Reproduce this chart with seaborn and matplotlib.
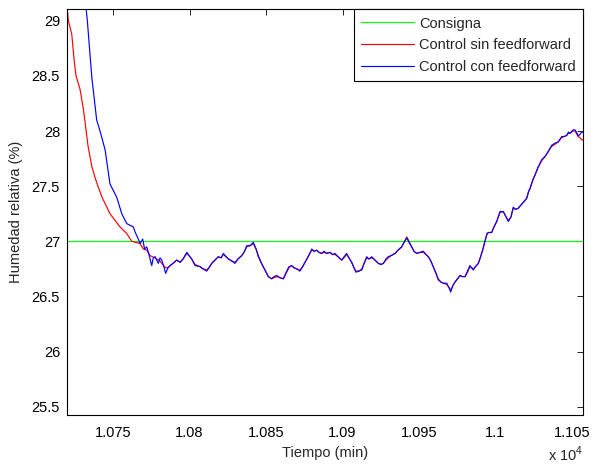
import matplotlib
matplotlib.use("Agg")
import matplotlib.pyplot as plt
import seaborn as sns
import numpy as np
import pandas as pd
from matplotlib.ticker import FuncFormatter, FixedLocator

# ---------------- data ----------------
t_setpoint = [10720.0, 11057.2]
setpoint = [27.0, 27.0]

t_sin = [10720.0, 10720.8, 10723.0, 10724.5, 10725.8, 10728.4, 10730.6, 10732.4, 10733.7,
         10736.1, 10738.2, 10740.4, 10742.8, 10745.9, 10748.0, 10751.3, 10754.6, 10759.0,
         10762.2, 10765.0, 10767.6, 10769.8, 10772.0, 10774.2, 10777.5, 10780.7, 10782.9,
         10784.6, 10785.9, 10787.3, 10789.2, 10791.6, 10793.8, 10795.8, 10798.2, 10799.7,
         10801.4, 10803.6, 10806.9, 10808.8, 10811.2, 10812.7, 10814.5, 10816.7, 10818.8,
         10820.6, 10822.1, 10823.9, 10825.4, 10827.8, 10829.7, 10831.7, 10834.1, 10835.6,
         10837.4, 10839.5, 10841.7, 10843.5, 10845.0, 10846.7, 10848.2, 10850.0, 10851.5,
         10853.7, 10855.2, 10857.0, 10859.1, 10861.3, 10863.5, 10865.0, 10866.8, 10868.3,
         10870.1, 10872.2, 10873.9, 10875.5, 10877.5, 10879.9, 10881.4, 10883.1, 10884.6,
         10886.4, 10887.9, 10889.7, 10891.8, 10893.5, 10895.1, 10897.1, 10899.5, 10901.0,
         10902.7, 10904.2, 10906.0, 10907.5, 10908.8, 10910.8, 10912.6, 10914.1, 10915.8,
         10917.3, 10919.1, 10921.2, 10923.4, 10925.2, 10926.7, 10928.4, 10929.9, 10931.7,
         10934.3, 10936.3, 10938.7, 10940.2, 10942.0, 10943.5, 10945.2, 10946.7, 10948.5,
         10950.7, 10952.8, 10954.6, 10956.1, 10957.8, 10959.3, 10961.1, 10962.6, 10964.4,
         10965.9, 10968.1, 10969.6, 10970.7, 10972.2, 10973.5, 10975.2, 10976.8, 10978.4,
         10980.1, 10981.7, 10983.3, 10985.5, 10986.9, 10988.8, 10990.5, 10991.8, 10993.1,
         10994.4, 10995.3, 10997.5, 10999.0, 11000.8, 11002.9, 11005.1, 11006.9, 11008.4,
         11010.1, 11011.6, 11013.1, 11014.9, 11016.7, 11018.6, 11020.4, 11021.6, 11022.6,
         11024.5, 11025.8, 11027.8, 11030.2, 11032.4, 11034.3, 11036.7, 11038.9, 11040.9,
         11043.3, 11044.8, 11046.5, 11047.7, 11048.7, 11050.7, 11052.0, 11053.3, 11054.1,
         11055.2, 11056.3, 11057.2]
hum_sin = [29.12, 29.00, 28.88, 28.65, 28.50, 28.38, 28.20, 28.00, 27.86,
           27.68, 27.58, 27.49, 27.40, 27.31, 27.25, 27.19, 27.13, 27.07,
           27.00, 26.99, 26.98, 26.93, 26.92, 26.87, 26.85, 26.82, 26.78,
           26.76, 26.76, 26.78, 26.80, 26.83, 26.81, 26.84, 26.89, 26.87,
           26.84, 26.79, 26.77, 26.75, 26.74, 26.76, 26.80, 26.83, 26.86,
           26.85, 26.88, 26.86, 26.84, 26.82, 26.81, 26.84, 26.87, 26.90,
           26.95, 26.96, 26.98, 26.93, 26.87, 26.81, 26.77, 26.72, 26.68,
           26.66, 26.67, 26.68, 26.67, 26.66, 26.72, 26.76, 26.78, 26.76,
           26.75, 26.74, 26.77, 26.81, 26.86, 26.92, 26.91, 26.92, 26.90,
           26.89, 26.90, 26.89, 26.90, 26.88, 26.88, 26.86, 26.83, 26.85,
           26.88, 26.85, 26.81, 26.76, 26.73, 26.73, 26.75, 26.80, 26.85,
           26.84, 26.85, 26.83, 26.80, 26.79, 26.80, 26.83, 26.85, 26.87,
           26.89, 26.92, 26.95, 26.99, 27.04, 27.00, 26.95, 26.91, 26.89,
           26.90, 26.90, 26.88, 26.86, 26.82, 26.77, 26.71, 26.66, 26.63,
           26.62, 26.61, 26.58, 26.56, 26.60, 26.63, 26.66, 26.69, 26.68,
           26.68, 26.72, 26.77, 26.75, 26.77, 26.80, 26.87, 26.93, 27.00,
           27.06, 27.08, 27.08, 27.13, 27.18, 27.26, 27.27, 27.22, 27.19,
           27.22, 27.30, 27.29, 27.30, 27.33, 27.36, 27.39, 27.45, 27.48,
           27.56, 27.60, 27.67, 27.73, 27.77, 27.81, 27.86, 27.88, 27.90,
           27.94, 27.95, 27.96, 27.98, 27.98, 28.00, 28.00, 27.97, 27.95,
           27.94, 27.92, 27.92]

t_con = [10730.4, 10732.4, 10733.2, 10736.1, 10739.3, 10741.5, 10744.8, 10748.0, 10752.4,
         10755.7, 10759.0, 10763.3, 10764.4, 10766.5, 10767.6, 10769.4, 10770.6, 10772.0,
         10773.1, 10775.3, 10776.3, 10777.5, 10779.6, 10780.7, 10781.8, 10783.0, 10784.4,
         10785.9, 10787.3, 10789.2, 10791.6, 10793.8, 10795.8, 10798.2, 10799.7,
         10801.4, 10803.6, 10806.9, 10808.8, 10811.2, 10812.7, 10814.5, 10816.7, 10818.8,
         10820.6, 10822.1, 10823.9, 10825.4, 10827.8, 10829.7, 10831.7, 10834.1, 10835.6,
         10837.4, 10839.5, 10841.7, 10843.5, 10845.0, 10846.7, 10848.2, 10850.0, 10851.5,
         10853.7, 10855.2, 10857.0, 10859.1, 10861.3, 10863.5, 10865.0, 10866.8, 10868.3,
         10870.1, 10872.2, 10873.9, 10875.5, 10877.5, 10879.9, 10881.4, 10883.1, 10884.6,
         10886.4, 10887.9, 10889.7, 10891.8, 10893.5, 10895.1, 10897.1, 10899.5, 10901.0,
         10902.7, 10904.2, 10906.0, 10907.5, 10908.8, 10910.8, 10912.6, 10914.1, 10915.8,
         10917.3, 10919.1, 10921.2, 10923.4, 10925.2, 10926.7, 10928.4, 10929.9, 10931.7,
         10934.3, 10936.3, 10938.7, 10940.2, 10942.0, 10943.5, 10945.2, 10946.7, 10948.5,
         10950.7, 10952.8, 10954.6, 10956.1, 10957.8, 10959.3, 10961.1, 10962.6, 10964.4,
         10965.9, 10968.1, 10969.6, 10970.7, 10972.2, 10973.5, 10975.2, 10976.8, 10978.4,
         10980.1, 10981.7, 10983.3, 10985.5, 10986.9, 10988.8, 10990.5, 10991.8, 10993.1,
         10994.4, 10995.3, 10997.5, 10999.0, 11000.8, 11002.9, 11005.1, 11006.9, 11008.4,
         11010.1, 11011.6, 11013.1, 11014.9, 11016.7, 11018.6, 11020.4, 11021.6, 11022.6,
         11024.5, 11025.8, 11027.8, 11030.2, 11032.4, 11034.3, 11036.7, 11038.9, 11040.9,
         11043.3, 11044.8, 11046.5, 11047.7, 11048.7, 11050.7, 11052.0, 11053.3, 11054.1,
         11055.2, 11056.3, 11057.2]
hum_con = [29.45, 29.11, 29.00, 28.49, 28.10, 28.00, 27.83, 27.52, 27.40,
           27.25, 27.16, 27.13, 27.085, 27.02, 26.98, 27.02, 26.93, 26.95,
           26.90, 26.78, 26.85, 26.86, 26.80, 26.85, 26.83, 26.78, 26.71,
           26.76, 26.78, 26.80, 26.83, 26.81, 26.84, 26.90, 26.87,
           26.84, 26.78, 26.77, 26.75, 26.73, 26.76, 26.80, 26.83, 26.86,
           26.85, 26.89, 26.86, 26.84, 26.82, 26.80, 26.84, 26.87, 26.90,
           26.96, 26.96, 26.99, 26.93, 26.86, 26.81, 26.77, 26.72, 26.68,
           26.66, 26.68, 26.69, 26.67, 26.66, 26.73, 26.77, 26.78, 26.76,
           26.75, 26.73, 26.77, 26.81, 26.86, 26.93, 26.91, 26.92, 26.90,
           26.89, 26.91, 26.89, 26.90, 26.88, 26.89, 26.86, 26.83, 26.86,
           26.89, 26.85, 26.81, 26.76, 26.72, 26.73, 26.74, 26.80, 26.86,
           26.84, 26.86, 26.83, 26.80, 26.79, 26.80, 26.84, 26.86, 26.87,
           26.89, 26.92, 26.95, 26.99, 27.03, 26.99, 26.95, 26.91, 26.89,
           26.90, 26.91, 26.88, 26.86, 26.82, 26.77, 26.71, 26.65, 26.63,
           26.62, 26.62, 26.58, 26.54, 26.60, 26.63, 26.66, 26.69, 26.68,
           26.68, 26.73, 26.78, 26.74, 26.77, 26.80, 26.87, 26.93, 27.00,
           27.07, 27.08, 27.08, 27.13, 27.18, 27.27, 27.27, 27.22, 27.18,
           27.22, 27.31, 27.29, 27.30, 27.33, 27.36, 27.39, 27.45, 27.48,
           27.56, 27.60, 27.67, 27.74, 27.77, 27.81, 27.87, 27.89, 27.90,
           27.95, 27.95, 27.96, 27.99, 27.98, 28.01, 28.01, 27.98, 27.955,
           27.97, 27.99, 27.99]

labels = ["Consigna", "Control sin feedforward", "Control con feedforward"]
x_ticks = [10750, 10800, 10850, 10900, 10950, 11000, 11050]
y_ticks = [25.5, 26, 26.5, 27, 27.5, 28, 28.5, 29]

# ---------------- style ----------------
FS = 10.5
sns.set_style("white")
plt.rcParams["font.family"] = ["Liberation Sans", "DejaVu Sans"]
plt.rcParams["mathtext.fontset"] = "custom"
plt.rcParams["mathtext.rm"] = "Liberation Sans"
plt.rcParams["font.size"] = FS

fig = plt.figure(figsize=(5.92, 4.66), dpi=100)
fig.patch.set_facecolor("white")
ax = fig.add_axes([67 / 592, 1 - 415 / 466, (583 - 67) / 592, (415 - 9.3) / 466])

sns.lineplot(x=t_setpoint, y=setpoint, ax=ax, color=(0, 1, 0), linewidth=0.85,
             label=labels[0], estimator=None, sort=False)
sns.lineplot(x=t_sin, y=hum_sin, ax=ax, color=(1, 0, 0), linewidth=0.85,
             label=labels[1], estimator=None, sort=False)
sns.lineplot(x=t_con, y=hum_con, ax=ax, color=(0, 0, 1), linewidth=0.85,
             label=labels[2], estimator=None, sort=False)

ax.set_xlim(10719.9, 11057.2)
ax.set_ylim(25.425, 29.104)
ax.xaxis.set_major_locator(FixedLocator(x_ticks))
ax.yaxis.set_major_locator(FixedLocator(y_ticks))
ax.xaxis.set_major_formatter(FuncFormatter(lambda v, p: "%g" % (v / 1e4)))
ax.yaxis.set_major_formatter(FuncFormatter(lambda v, p: "%g" % v))
ax.tick_params(direction="in", top=True, right=True, length=4, width=0.6,
               labelsize=FS, colors="black")
ax.tick_params(axis="x", pad=8)
ax.tick_params(axis="y", pad=5)
for s in ax.spines.values():
    s.set_color("black")
    s.set_linewidth(0.8)

ax.set_xlabel("Tiempo (min)", fontsize=FS, labelpad=4)
ax.set_ylabel("Humedad relativa (%)", fontsize=FS, labelpad=6)
ax.text(1.0, -0.097, "x 10$^4$", transform=ax.transAxes, ha="right", va="center",
        fontsize=FS)

leg = ax.legend(loc="upper right", borderaxespad=0, frameon=True, fancybox=False,
                edgecolor="black", framealpha=1, handlelength=3.6, handletextpad=0.35,
                labelspacing=0.52, borderpad=0.5, fontsize=FS)
leg.get_frame().set_linewidth(0.8)

fig.savefig("out.png", dpi=100, facecolor="white")
